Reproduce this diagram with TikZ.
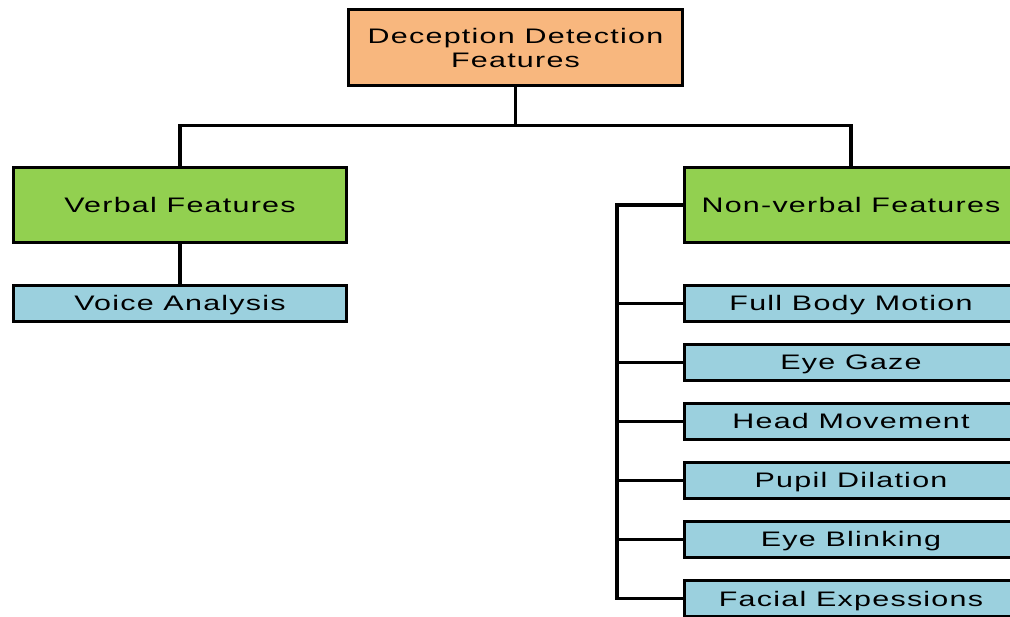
\documentclass[tikz,border=0pt]{standalone}
\usepackage{fontspec}
\setmainfont[FakeStretch=1.45,LetterSpace=6]{Liberation Sans}
\usetikzlibrary{positioning}

\definecolor{topfill}{HTML}{F8B77E}
\definecolor{groupfill}{HTML}{92D050}
\definecolor{itemfill}{HTML}{9BD0DE}

\tikzset{
  box/.style={draw=black,line width=2.8pt,minimum width=333pt,inner sep=0pt,
    align=center,font=\fontsize{21}{24}\selectfont},
  topbox/.style={box,fill=topfill,minimum width=334pt,minimum height=76pt},
  groupbox/.style={box,fill=groupfill,minimum height=75pt,text height=15pt,text depth=0pt},
  itembox/.style={box,fill=itemfill,minimum height=36pt,text height=15pt,text depth=0pt},
  wire/.style={draw=black,line width=3.2pt}
}

\begin{document}
\begin{tikzpicture}[x=1pt,y=-1pt]

\useasboundingbox (0,0) rectangle (1010,617);
\clip (0,0) rectangle (1010,617);

\node[topbox] (root) at (515.5,47.5) {Deception Detection\\Features};

\node[groupbox] (verbal) at (180,205) {Verbal Features};
\node[groupbox] (nonverbal) at (851,205) {Non-verbal Features};

\node[itembox] (voice) at (180,303.5) {Voice Analysis};

\node[itembox] (body) at (851,303.5) {Full Body Motion};
\node[itembox] (gaze) at (851,362.5) {Eye Gaze};
\node[itembox] (head) at (851,421.5) {Head Movement};
\node[itembox] (pupil) at (851,480.5) {Pupil Dilation};
\node[itembox] (blink) at (851,539.5) {Eye Blinking};
\node[itembox] (facial) at (851,598.5) {Facial Expessions};

\draw[wire] (root.south) -- ++(0,39) coordinate (bus);
\draw[wire] (verbal.north) |- (bus) -| (nonverbal.north);
\draw[wire] (verbal.south) -- (voice.north);

\coordinate (spine) at (617,205);
\draw[wire] (nonverbal.west) -- (spine) |- (facial.west);
\foreach \child in {body,gaze,head,pupil,blink}{
  \draw[wire] (spine |- \child.west) -- (\child.west);
}

\end{tikzpicture}
\end{document}
